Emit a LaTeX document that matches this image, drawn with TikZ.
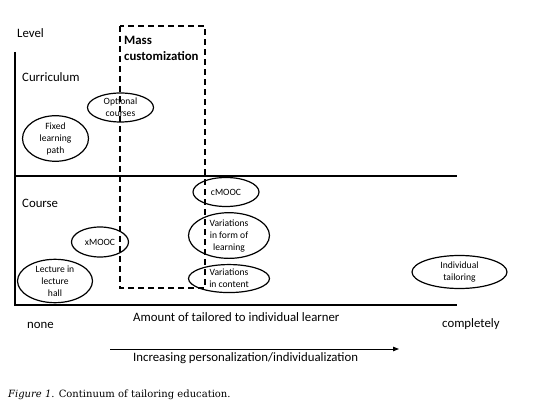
\documentclass[tikz,border=0pt]{standalone}
\usepackage{fontspec}
\setmainfont{Carlito}
\newfontfamily\capfont{DejaVu Serif}
\usepackage{tikz}
\usetikzlibrary{positioning,arrows.meta,shapes.geometric}

\begin{document}
\begin{tikzpicture}[
  x=1pt, y=-1pt,
  node distance=5pt and 5pt,
  lbl/.style={anchor=west, font=\fontsize{12.8}{15}\selectfont, inner sep=0pt},
  oval/.style={draw=black, ellipse, line width=1.2pt, inner sep=0pt, align=center, font=\fontsize{9.6}{12}\selectfont},
  axis/.style={draw=black, line width=1.4pt},
  arr/.style={-{Triangle[length=6pt,width=4.5pt]}, draw=black, line width=1pt}
]
\useasboundingbox (0,0) rectangle (533,414);
% axes
\coordinate (ytop) at (15,52);
\coordinate (orig) at (15,305);
\coordinate (xend) at (457,305);
\coordinate (mleft) at (15,176);
\coordinate (mright) at (457,176);
\draw[axis] (ytop) -- (orig) -- (xend);
\draw[axis, line width=1.2pt] (mleft) -- (mright);
% mass customization box
\draw[dash pattern=on 6pt off 4pt, line width=1.3pt] (120,26) rectangle (205,288);
\node[lbl, font=\fontsize{12.8}{16}\selectfont\bfseries, align=left] (mass) at (124,48) {Mass\\customization};
% levels
\node[lbl] (lvl) at (17,33) {Level};
\node[lbl] (curr) at (22,77) {Curriculum};
\node[lbl] (crs) at (22,203) {Course};
% curriculum level
\node[oval, minimum width=66pt, minimum height=29pt] (opt) at (120.5,107.5) {Optional\\courses};
\node[oval, minimum width=66pt, minimum height=39pt] (fix) at (55.5,138.5) {Fixed\\learning\\path};
% course level
\node[oval, minimum width=57pt, minimum height=30pt] (xmooc) at (100,242) {xMOOC};
\node[oval, minimum width=75pt, minimum height=41pt] (lect) at (55,281) {Lecture in\\lecture\\hall};
\node[oval, minimum width=66pt, minimum height=29pt] (cmooc) at (226,192) {cMOOC};
\node[oval, minimum width=81pt, minimum height=42pt, below=of cmooc, xshift=3pt] (form) {Variations\\in form of\\learning};
\node[oval, minimum width=81pt, minimum height=28pt, below=of form] (cont) {Variations\\in content};
\node[oval, minimum width=95pt, minimum height=33pt] (indiv) at (459.5,272) {Individual\\tailoring};
% x axis labels
\node[lbl] (none) at (27,325) {none};
\node[lbl] (amount) at (133,317) {Amount of tailored to individual learner};
\node[lbl] (compl) at (442,324) {completely};
\coordinate (pstart) at (110,349);
\coordinate (pend) at (399,349);
\draw[arr] (pstart) -- (pend);
\node[lbl, below=3pt of pstart, xshift=23pt, anchor=north west] (incr) {Increasing personalization/individualization};
% caption
\node[anchor=west, inner sep=0pt, font=\capfont\fontsize{10}{12}\selectfont] (cap) at (8,395) {\textit{Figure 1}. Continuum of tailoring education.};
\end{tikzpicture}
\end{document}
